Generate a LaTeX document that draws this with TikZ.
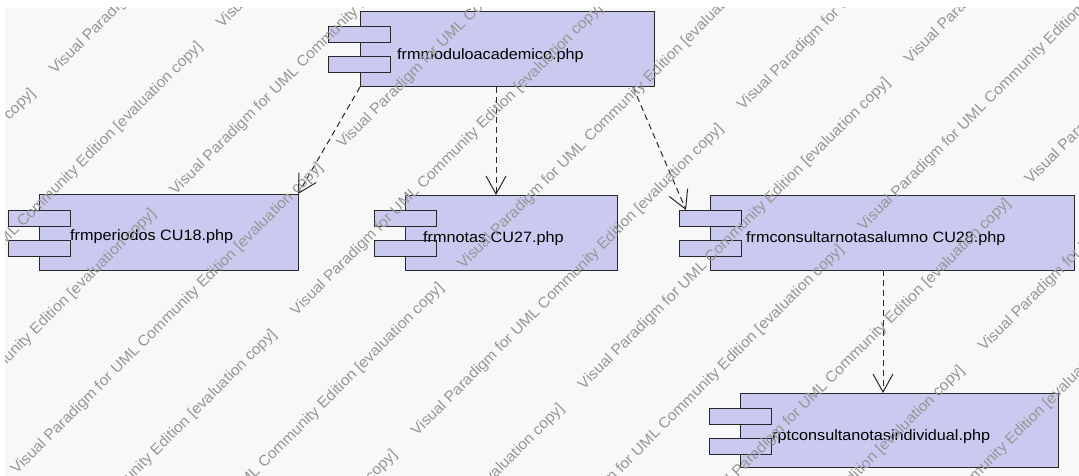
\documentclass[tikz,border=0pt]{standalone}
\usepackage{graphicx}
\usepackage{fontspec}
\setmainfont{Liberation Sans}
\usetikzlibrary{arrows.meta}
\definecolor{bgc}{RGB}{248,248,248}
\definecolor{compfill}{RGB}{202,202,240}
\definecolor{edgec}{RGB}{40,40,40}
\definecolor{wmc}{RGB}{150,150,150}
\newcommand{\cmptext}[1]{\scalebox{1.08}[1]{#1}}
\newcommand{\wmtext}{\scalebox{1.05}[1]{Visual Paradigm for UML Community Edition [evaluation copy]}}
\begin{document}
\begin{tikzpicture}[x=1pt,y=-1pt,
  body/.style={draw=edgec, fill=compfill, line width=1pt, rectangle, inner sep=0pt, outer sep=0pt, anchor=north west},
  tab/.style={draw=edgec, fill=compfill, line width=1pt, rectangle, inner sep=0pt, outer sep=0pt, anchor=north west, minimum width=62pt, minimum height=16pt},
  lbl/.style={anchor=base west, inner sep=0pt, font=\fontsize{15}{18}\selectfont, text=black},
  dep/.style={draw=edgec, line width=1pt, dash pattern=on 6pt off 4pt, -{Straight Barb[length=18pt,width=20pt]}},
  wm/.style={anchor=base west, rotate=45, inner sep=0pt, text=wmc, font=\fontsize{15}{18}\selectfont}
]
\useasboundingbox (0,0) rectangle (1079,476);
\fill[white] (0,0) rectangle (1079,476);
\fill[bgc] (5,8) rectangle (1079,476);

% component 1
\node[body, minimum width=294pt, minimum height=75pt] (m1) at (360,12) {};
\node[tab] (m1a) at (328,27) {};
\node[tab] (m1b) at (328,57) {};
\node[lbl] (m1l) at (397,60) {\cmptext{frmmoduloacademico.php}};

% component 2
\node[body, minimum width=259pt, minimum height=76pt] (m2) at (39,194) {};
\node[tab] (m2a) at (8,210) {};
\node[tab] (m2b) at (8,240) {};
\node[lbl] (m2l) at (70,240) {\cmptext{frmperiodos CU18.php}};

% component 3
\node[body, minimum width=212pt, minimum height=75pt] (m3) at (405,195) {};
\node[tab] (m3a) at (374,210) {};
\node[tab] (m3b) at (374,240) {};
\node[lbl] (m3l) at (423,242) {\cmptext{frmnotas CU27.php}};

% component 4
\node[body, minimum width=364pt, minimum height=75pt] (m4) at (710,195) {};
\node[tab] (m4a) at (679,210) {};
\node[tab] (m4b) at (679,240) {};
\node[lbl] (m4l) at (746,242) {\cmptext{frmconsultarnotasalumno CU28.php}};

% component 5
\node[body, minimum width=318pt, minimum height=74pt] (m5) at (740,393) {};
\node[tab] (m5a) at (709,408) {};
\node[tab] (m5b) at (709,438) {};
\node[lbl] (m5l) at (772,440) {\cmptext{rptconsultanotasindividual.php}};

% dependencies
\draw[dep] (m1.south west) -- (m2.north east);
\draw[dep] ([xshift=136pt]m1.south west) -- ([xshift=91pt]m3.north west);
\draw[dep] ([xshift=273pt]m1.south west) -- ([xshift=7pt]m4a.north west);
\draw[dep] ([xshift=173pt]m4.south west) -- ([xshift=143pt]m5.north west);

% watermark (only the copies that reach the visible area)
\begin{scope}
\clip (5,8) rectangle (1079,476);
\foreach \m/\j/\t in {-1/0/0,0/0/0,-1/1/0,0/1/0,-1/2/0,0/2/0,-1/3/0,0/3/0,1/3/0,0/4/0,1/4/0,0/5/0,1/5/0,
                      -1/0/1,0/0/1,-1/1/1,0/1/1,-1/2/1,0/2/1,-1/3/1,0/3/1,1/3/1,0/4/1,1/4/1,0/5/1}{
  \node[wm] (wm-\m-\j-\t) at ({55+167*\t+326*\m+120.6*\j},{75-46.5*\t-326*\m+120.6*\j}) {\wmtext};
}
\end{scope}
\end{tikzpicture}
\end{document}
